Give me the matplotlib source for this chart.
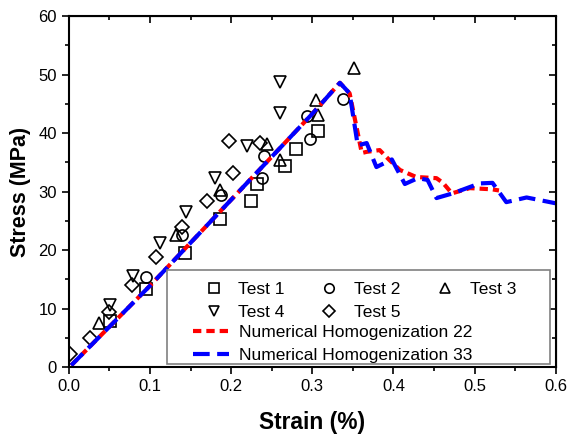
#!/usr/bin/env python3
import numpy as np
from matplotlib import pyplot as plt
from matplotlib.patches import Rectangle
from matplotlib.ticker import MultipleLocator

plt.rcParams['font.family'] = ['Liberation Sans', 'DejaVu Sans']

# experimental points (strain %, stress MPa)
t1_x = [0.051, 0.095, 0.143, 0.186, 0.225, 0.232, 0.266, 0.280, 0.307]
t1_y = [7.9, 13.3, 19.5, 25.3, 28.4, 31.3, 34.4, 37.3, 40.3]
t2_x = [0.095, 0.140, 0.188, 0.238, 0.240, 0.297, 0.293, 0.338]
t2_y = [15.4, 22.6, 29.4, 32.3, 36.1, 39.0, 42.9, 45.8]
t3_x = [0.037, 0.132, 0.186, 0.244, 0.260, 0.305, 0.307, 0.352]
t3_y = [7.5, 22.6, 30.3, 38.1, 35.4, 45.6, 43.1, 51.1]
t4_x = [0.051, 0.079, 0.112, 0.145, 0.180, 0.219, 0.260, 0.260]
t4_y = [10.6, 15.6, 21.2, 26.5, 32.3, 37.8, 43.4, 48.7]
t5_x = [0.002, 0.026, 0.050, 0.078, 0.108, 0.139, 0.170, 0.202, 0.198, 0.235]
t5_y = [2.2, 5.0, 9.4, 14.0, 18.8, 23.9, 28.4, 33.2, 38.6, 38.3]

# numerical homogenization curves
nh22_x = [0.003, 0.1, 0.2, 0.3, 0.334, 0.346, 0.361, 0.367, 0.383, 0.395,
          0.408, 0.428, 0.453, 0.461, 0.472, 0.494, 0.521, 0.530]
nh22_y = [0.3, 13.9, 28.6, 43.3, 48.6, 46.8, 36.6, 36.8, 37.1, 35.4,
          33.7, 32.5, 32.3, 31.5, 29.7, 30.6, 30.4, 30.2]
nh33_x = [0.003, 0.1, 0.2, 0.3, 0.334, 0.346, 0.356, 0.367, 0.379, 0.398,
          0.414, 0.430, 0.442, 0.453, 0.473, 0.506, 0.522, 0.539, 0.564, 0.600]
nh33_y = [0.3, 13.9, 28.6, 43.3, 48.6, 46.8, 37.9, 38.3, 34.2, 35.5,
          31.3, 32.3, 32.0, 28.9, 29.7, 31.4, 31.5, 28.2, 29.0, 28.0]


def main():
    fig = plt.figure(figsize=(5.73, 4.36), dpi=100)
    ax = fig.add_axes([0.120, 0.158, 0.850, 0.805])

    mk = dict(linestyle='none', markerfacecolor='none', markeredgecolor='black',
              markeredgewidth=1.2, markersize=8, clip_on=True)
    h1, = ax.plot(t1_x, t1_y, marker='s', label='Test 1', **mk)
    h2, = ax.plot(t2_x, t2_y, marker='o', label='Test 2', **mk)
    h3, = ax.plot(t3_x, t3_y, marker='^', label='Test 3', **mk)
    h4, = ax.plot(t4_x, t4_y, marker='v', label='Test 4', **mk)
    h5, = ax.plot(t5_x, t5_y, marker='D', label='Test 5', **dict(mk, markersize=7))

    l22, = ax.plot(nh22_x, nh22_y, color='red', lw=3, dashes=(2.0, 1.2),
                   label='Numerical Homogenization 22')
    l33, = ax.plot(nh33_x, nh33_y, color='blue', lw=3, dashes=(4.0, 1.8),
                   label='Numerical Homogenization 33')

    ax.set_xlim(0, 0.6)
    ax.set_ylim(0, 60)
    ax.xaxis.set_major_locator(MultipleLocator(0.1))
    ax.xaxis.set_minor_locator(MultipleLocator(0.05))
    ax.yaxis.set_major_locator(MultipleLocator(10))
    ax.yaxis.set_minor_locator(MultipleLocator(5))
    ax.set_xticklabels([f'{v:.1f}' for v in ax.get_xticks()])
    ax.tick_params(which='both', direction='out', labelsize=12, width=1.2)
    ax.tick_params(which='major', length=5)
    ax.tick_params(which='minor', length=3)
    for s in ax.spines.values():
        s.set_linewidth(1.5)

    top = ax.secondary_xaxis('top')
    top.xaxis.set_major_locator(MultipleLocator(0.1))
    top.xaxis.set_minor_locator(MultipleLocator(0.05))
    top.tick_params(which='both', direction='in', labeltop=False, width=1.2)
    top.tick_params(which='major', length=5)
    top.tick_params(which='minor', length=3)
    right = ax.secondary_yaxis('right')
    right.yaxis.set_major_locator(MultipleLocator(10))
    right.yaxis.set_minor_locator(MultipleLocator(5))
    right.tick_params(which='both', direction='in', labelright=False, width=1.2)
    right.tick_params(which='major', length=5)
    right.tick_params(which='minor', length=3)

    ax.set_xlabel('Strain (%)', fontsize=16.4, fontweight='bold', labelpad=12)
    ax.set_ylabel('Stress (MPa)', fontsize=15.5, fontweight='bold', labelpad=5)

    # legend: markers in 3 columns, lines below, one common frame
    ax.add_patch(Rectangle((0.201, 0.008), 0.787, 0.270, transform=ax.transAxes,
                           facecolor='white', edgecolor='gray', lw=1.2, zorder=4))
    leg1 = ax.legend(handles=[h1, h4, h2, h5, h3], ncol=3, frameon=False,
                     fontsize=12.5, loc='upper left', bbox_to_anchor=(0.269, 0.243),
                     handlelength=1.6, handletextpad=0.63, columnspacing=1.75,
                     labelspacing=0.45, borderaxespad=0, borderpad=0,
                     markerscale=0.85)
    ax.add_artist(leg1)
    ax.legend(handles=[l22, l33], frameon=False, fontsize=12.5, loc='upper left',
              bbox_to_anchor=(0.2546, 0.119), handlelength=2.1, handletextpad=0.58,
              labelspacing=0.45, borderaxespad=0, borderpad=0)

    plt.savefig('out.png', dpi=100)


if __name__ == '__main__':
    main()
